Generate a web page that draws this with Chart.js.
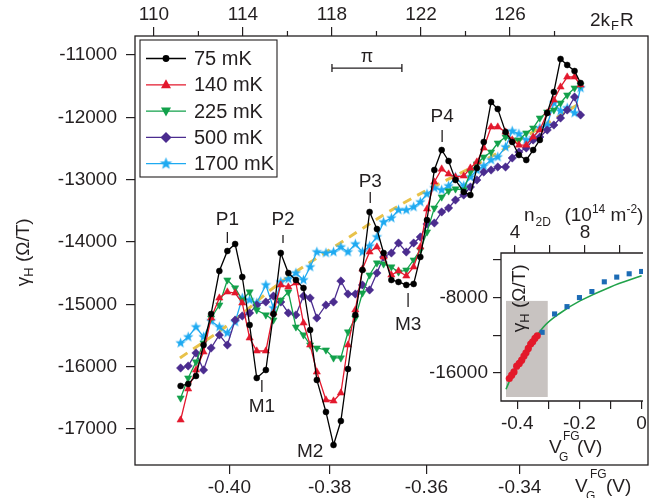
<!DOCTYPE html>
<html>
<head>
<meta charset="utf-8">
<script src="https://cdn.jsdelivr.net/npm/chart.js@4.4.0/dist/chart.umd.min.js"></script>
<style>
html, body { margin: 0; padding: 0; background: #fff; }
#wrap { position: relative; width: 658px; height: 498px; overflow: hidden; }
#main { position: absolute; left: 0; top: 0; }
#inset { position: absolute; left: 430px; top: 190px; }
</style>
</head>
<body>
<div id="wrap">
  <canvas id="main" width="658" height="498"></canvas>
  <canvas id="inset" width="228" height="290"></canvas>
</div>
<script>
// ---- main panel data (x = 2kFR, y = gamma_H in Ohm/T) ----
const kfr = [111.2, 111.54, 111.89, 112.23, 112.57, 112.94, 113.3, 113.65, 113.97, 114.3,
  114.62, 115.03, 115.37, 115.7, 116.04, 116.38, 116.72, 117.02, 117.32, 117.73,
  118.07, 118.4, 118.72, 119.05, 119.37, 119.69, 120.02, 120.32, 120.67, 120.99,
  121.34, 121.67, 121.97, 122.27, 122.6, 122.93, 123.24, 123.55, 123.92, 124.22,
  124.51, 124.82, 125.15, 125.45, 125.8, 126.1, 126.4, 126.73, 127.04, 127.34,
  127.67, 127.97, 128.27, 128.57, 128.9, 129.17];

const g75 = [-16309, -16277, -16149, -15652, -15154, -14465, -14144, -14032, -14561, -15331,
  -16181, -16053, -15154, -14176, -14497, -14609, -14737, -15411, -16213, -16726,
  -17256, -16871, -16037, -15170, -14449, -13518, -13791, -14176, -14609, -14641,
  -14689, -14673, -14240, -13647, -12845, -12524, -12700, -13005, -13197, -13246,
  -12813, -12395, -11754, -11866, -12235, -12395, -12604, -12684, -12524, -12363,
  -11930, -11593, -11064, -11160, -11257, -11449];
const g140 = [-16855, -16357, -16053, -15764, -15219, -14898, -14801, -14818, -14978, -15539,
  -15748, -15748, -15138, -14689, -14721, -14657, -15299, -15652, -16085, -16534,
  -16550, -16422, -15652, -15090, -14433, -14160, -14080, -14240, -14529, -14465,
  -14545, -14400, -14080, -13470, -13037, -12829, -12909, -12957, -12941, -12813,
  -12716, -12492, -12155, -12155, -12235, -12363, -12444, -12444, -12315, -12203,
  -11930, -11722, -11513, -11353, -11353, -11481];
const g225 = [-16502, -16181, -15924, -15620, -15219, -15010, -14609, -14737, -14930, -14801,
  -15090, -15170, -15251, -14930, -14801, -15363, -15491, -15652, -15700, -15732,
  -15860, -15860, -15443, -15219, -14818, -14529, -14336, -14352, -14400, -14481,
  -14449, -14288, -14128, -13839, -13454, -13278, -13181, -13149, -13165, -12877,
  -12748, -12636, -12556, -12412, -12315, -12363, -12363, -12251, -12171, -12011,
  -11914, -11882, -11770, -11642, -11529, -11481];
const g500 = [-16021, -15988, -15780, -16053, -15700, -15491, -15652, -15251, -15186, -15138,
  -15010, -14962, -14866, -14962, -15138, -15170, -14866, -14898, -15219, -15010,
  -14962, -14625, -14834, -14834, -14689, -14769, -14497, -14240, -14176, -14016,
  -14160, -14016, -13919, -13711, -13695, -13518, -13454, -13326, -13246, -13117,
  -13005, -12877, -12845, -12796, -12796, -12652, -12556, -12492, -12363, -12315,
  -12203, -12123, -12011, -11882, -11674, -11962];
const g1700 = [-15620, -15523, -15363, -15523, -15267, -15363, -15459, -15283, -14898, -14930,
  -14978, -14689, -15058, -14641, -14593, -14497, -14609, -14400, -14160, -14176,
  -14160, -14080, -14160, -14032, -14160, -14064, -13919, -13679, -13615, -13486,
  -13486, -13438, -13358, -13230, -13133, -13165, -13101, -12957, -13101, -12957,
  -12845, -12780, -12684, -12636, -12476, -12219, -12267, -12363, -12331, -12171,
  -12123, -11770, -11898, -11850, -11930, -11529];

// dashed guide
const fitX = [111.17, 113.51, 115.54, 118.37, 121.3, 125.12, 129.17];
const fitY = [-15860, -15283, -14689, -14016, -13358, -12636, -11770];

const seriesNames = ['75 mK', '140 mK', '225 mK', '500 mK', '1700 mK'];

// axis ticks
const topTicks = [110, 114, 118, 122, 126];
const topMinor = [112, 116, 120, 124, 128];
const yTicks = [-17000, -16000, -15000, -14000, -13000, -12000, -11000];
const vTicks = [-0.40, -0.38, -0.36, -0.34];
const vLabels = ['-0.40', '-0.38', '-0.36', '-0.34'];

// peak / dip labels [text, x(2kFR), text y, tick from, tick to]
const notes = [
  ['P1', 113.3, -13647, -13839, -14016],
  ['P2', 115.8, -13647, -13887, -14016],
  ['M1', 114.85, -16646, -16213, -16405],
  ['M2', 117.02, -17368, null, null],
  ['P3', 119.72, -13037, -13198, -13374],
  ['M3', 121.42, -15331, -14818, -15042],
  ['P4', 122.95, -11994, -12203, -12395]
];

// ---- inset data ----
const insetRedV = [-0.4257, -0.418, -0.4106, -0.4019, -0.3936, -0.3859, -0.3785, -0.372, -0.3646, -0.3569, -0.3505, -0.3431, -0.3357];
const insetRedG = [-16598, -16246, -15893, -15286, -14998, -14646, -14219, -13867, -13397, -12939, -12693, -12331, -12053];
const insetBlueV = [-0.32, -0.28, -0.24, -0.20, -0.16, -0.12, -0.08, -0.04, 0];
const insetBlueG = [-11691, -9739, -8960, -8000, -7360, -6325, -5824, -5472, -5227];
const insetFitV = [-0.4363, -0.4129, -0.3698, -0.3164, -0.2627, -0.1984, -0.1019, 0];
const insetFitG = [-17739, -16000, -13760, -11157, -9664, -8352, -6891, -5685];
const insetXTicks = [-0.4, -0.3, -0.2, -0.1, 0];
const insetXLabels = ['-0.4', '', '-0.2', '', '0'];
const insetYTicks = [-16000, -12000, -8000, -4000];
const insetYLabels = ['-16000', '', '-8000', ''];
const insetNTicks = [4, 6, 8, 10];
const insetNLabels = ['4', '', '8', ''];

// gate voltage -> 2kFR
function kfrOfV(v) { return Math.sqrt(33717 + 52150 * v); }

const FONT = '"Liberation Sans", Arial, Helvetica, sans-serif';
const INK = '#231f20';
const C_BLACK = '#000000', C_RED = '#e3182d', C_GREEN = '#12a14b', C_PURPLE = '#4b2c8f', C_CYAN = '#1eaaf1', C_GOLD = '#e8c24a';

function makeStar(r, color) {
  const s = Math.ceil(2 * r + 2);
  const c = document.createElement('canvas');
  c.width = s; c.height = s;
  const g = c.getContext('2d');
  g.fillStyle = color;
  g.beginPath();
  for (let i = 0; i < 10; i++) {
    const a = -Math.PI / 2 + i * Math.PI / 5;
    const rr = i % 2 ? r * 0.42 : r;
    g.lineTo(s / 2 + rr * Math.cos(a), s / 2 + rr * Math.sin(a));
  }
  g.closePath();
  g.fill();
  return c;
}
const starImg = makeStar(5.5, C_CYAN);
const starBig = makeStar(6.5, C_CYAN);

function pts(xs, ys) { return xs.map((x, i) => ({ x: x, y: ys[i] })); }

function series(label, ys, color, style, radius, rot) {
  return {
    label: label, data: pts(kfr, ys), borderColor: color, backgroundColor: color,
    borderWidth: 1.3, pointStyle: style, pointRadius: radius, pointRotation: rot || 0,
    pointBackgroundColor: color, pointBorderColor: color, pointBorderWidth: 0.5,
    showLine: true, tension: 0
  };
}

// rich text: pieces [text, size, dx, dy]
function rich(ctx, x, y, pieces) {
  let cx = x;
  pieces.forEach(p => {
    ctx.font = p[1] + 'px ' + FONT;
    ctx.fillText(p[0], cx + (p[2] || 0), y + (p[3] || 0));
    cx += ctx.measureText(p[0]).width + (p[2] || 0);
  });
  return cx - x;
}

function drawMarker(ctx, kind, x, y, color) {
  ctx.fillStyle = color;
  if (kind === 'star') { ctx.drawImage(starBig, x - starBig.width / 2, y - starBig.height / 2); return; }
  ctx.beginPath();
  if (kind === 'circle') { ctx.arc(x, y, 3.4, 0, Math.PI * 2); }
  else if (kind === 'up') { ctx.moveTo(x, y - 5.5); ctx.lineTo(x + 5, y + 3.5); ctx.lineTo(x - 5, y + 3.5); }
  else if (kind === 'down') { ctx.moveTo(x, y + 5.5); ctx.lineTo(x + 5, y - 3.5); ctx.lineTo(x - 5, y - 3.5); }
  else if (kind === 'diamond') { ctx.moveTo(x, y - 5.5); ctx.lineTo(x + 5.5, y); ctx.lineTo(x, y + 5.5); ctx.lineTo(x - 5.5, y); }
  ctx.closePath();
  ctx.fill();
}

const mainDecor = {
  id: 'mainDecor',
  afterDraw(chart) {
    const ctx = chart.ctx, a = chart.chartArea;
    const xs = chart.scales.x, ys = chart.scales.y;
    ctx.save();
    // frame
    ctx.strokeStyle = INK; ctx.lineWidth = 1.3;
    ctx.strokeRect(a.left, a.top, a.right - a.left, a.bottom - a.top);
    // minor ticks top axis
    ctx.lineWidth = 1.2;
    topMinor.forEach(v => {
      const px = xs.getPixelForValue(v);
      ctx.beginPath(); ctx.moveTo(px, a.top); ctx.lineTo(px, a.top - 5); ctx.stroke();
    });
    ctx.fillStyle = INK;
    ctx.textBaseline = 'alphabetic';
    ctx.textAlign = 'left';
    // top axis name
    rich(ctx, 590, 26, [['2k', 19], ['F', 13, 1, 4], ['R', 19, 1]]);
    // bottom axis name
    rich(ctx, 575, 492, [['V', 19]]);
    ctx.font = '12px ' + FONT;
    ctx.fillText('FG', 590, 478);
    ctx.fillText('G', 586, 500);
    ctx.font = '19px ' + FONT;
    ctx.fillText('(V)', 606, 492);
    // y axis name
    ctx.save();
    ctx.translate(29, 253);
    ctx.rotate(-Math.PI / 2);
    ctx.font = '19px ' + FONT;
    const w = ctx.measureText('γ').width + 8 + ctx.measureText(' (Ω/T)').width;
    rich(ctx, -w / 2, 0, [['γ', 19], ['H', 13, 0, 4], [' (Ω/T)', 19]]);
    ctx.restore();
    // pi bar
    const p1 = xs.getPixelForValue(118), p2 = xs.getPixelForValue(118 + Math.PI);
    const py = ys.getPixelForValue(-11209);
    ctx.lineWidth = 1.3;
    ctx.beginPath();
    ctx.moveTo(p1, py); ctx.lineTo(p2, py);
    ctx.moveTo(p1, py - 4); ctx.lineTo(p1, py + 4);
    ctx.moveTo(p2, py - 4); ctx.lineTo(p2, py + 4);
    ctx.stroke();
    ctx.textAlign = 'center'; ctx.textBaseline = 'middle';
    ctx.font = '18px ' + FONT;
    ctx.fillText('π', (p1 + p2) / 2, ys.getPixelForValue(-11032));
    // peak / dip labels
    ctx.font = '19px ' + FONT;
    notes.forEach(n => {
      const px = xs.getPixelForValue(n[1]);
      ctx.fillText(n[0], px, ys.getPixelForValue(n[2]));
      if (n[3] !== null) {
        ctx.beginPath();
        ctx.moveTo(px, ys.getPixelForValue(n[3]));
        ctx.lineTo(px, ys.getPixelForValue(n[4]));
        ctx.stroke();
      }
    });
    // legend
    const lx = 140, ly = 40;
    ctx.fillStyle = '#fff';
    ctx.fillRect(lx, ly, 137, 137);
    ctx.lineWidth = 1.1; ctx.strokeStyle = INK;
    ctx.strokeRect(lx, ly, 137, 137);
    const kinds = ['circle', 'up', 'down', 'diamond', 'star'];
    const cols = [C_BLACK, C_RED, C_GREEN, C_PURPLE, C_CYAN];
    ctx.textAlign = 'left';
    seriesNames.forEach((s, i) => {
      const y = 58.5 + i * 26.3;
      ctx.strokeStyle = cols[i]; ctx.lineWidth = 1.3;
      ctx.beginPath(); ctx.moveTo(146, y); ctx.lineTo(186, y); ctx.stroke();
      drawMarker(ctx, kinds[i], 166, y, cols[i]);
      ctx.fillStyle = INK;
      ctx.font = '20px ' + FONT;
      ctx.fillText(s, 194, y + 1);
    });
    ctx.restore();
  }
};

const tickFont = { family: FONT, size: 19 };

new Chart(document.getElementById('main'), {
  type: 'scatter',
  data: {
    datasets: [
      series(seriesNames[0], g75, C_BLACK, 'circle', 3),
      series(seriesNames[1], g140, C_RED, 'triangle', 4.2),
      series(seriesNames[2], g225, C_GREEN, 'triangle', 4.2, 180),
      series(seriesNames[3], g500, C_PURPLE, 'rectRot', 4.2),
      series(seriesNames[4], g1700, C_CYAN, starImg, 5),
      {
        label: 'fit', data: pts(fitX, fitY), showLine: true, borderColor: C_GOLD,
        borderWidth: 3, borderDash: [9, 7], pointRadius: 0, tension: 0.4
      }
    ]
  },
  options: {
    responsive: false, animation: false, devicePixelRatio: 1,
    layout: { padding: { left: 0, right: 10, top: 0, bottom: 0 } },
    plugins: { legend: { display: false }, tooltip: { enabled: false } },
    scales: {
      x: {
        type: 'linear', position: 'top', min: 109.15, max: 132.2,
        afterBuildTicks: ax => { ax.ticks = topTicks.map(v => ({ value: v })); },
        afterFit: ax => { ax.height = 36; },
        ticks: { font: tickFont, color: INK, padding: 1, maxRotation: 0, autoSkip: false, callback: v => String(v) },
        grid: { display: true, drawOnChartArea: false, drawTicks: true, tickLength: 9, color: INK, lineWidth: 1.2 },
        border: { display: false }
      },
      xb: {
        type: 'linear', position: 'bottom', min: 109.15, max: 132.2,
        afterBuildTicks: ax => { ax.ticks = vTicks.map(v => ({ value: kfrOfV(v) })); },
        afterFit: ax => { ax.height = 33; },
        ticks: { font: tickFont, color: INK, padding: 2, maxRotation: 0, autoSkip: false, callback: (v, i) => vLabels[i] },
        grid: { display: true, drawOnChartArea: false, drawTicks: true, tickLength: 9, color: INK, lineWidth: 1.2 },
        border: { display: false }
      },
      y: {
        type: 'linear', position: 'left', min: -17577, max: -10695,
        afterBuildTicks: ax => { ax.ticks = yTicks.map(v => ({ value: v })); },
        afterFit: ax => { ax.width = 135; },
        ticks: { font: tickFont, color: INK, padding: 9, autoSkip: false, callback: v => String(v) },
        grid: { display: true, drawOnChartArea: false, drawTicks: true, tickLength: 9, color: INK, lineWidth: 1.2 },
        border: { display: false }
      }
    }
  },
  plugins: [mainDecor]
});

// ---- inset ----
const insetDecor = {
  id: 'insetDecor',
  beforeDatasetsDraw(chart) {
    const ctx = chart.ctx, xs = chart.scales.x, ys = chart.scales.y;
    const x1 = xs.getPixelForValue(-0.4363), x2 = xs.getPixelForValue(-0.302);
    const y1 = ys.getPixelForValue(-8352), y2 = ys.getPixelForValue(-18560);
    ctx.save();
    ctx.fillStyle = '#c8c3c1';
    ctx.fillRect(x1, y1, x2 - x1, y2 - y1);
    ctx.restore();
  },
  afterDraw(chart) {
    const ctx = chart.ctx, a = chart.chartArea;
    ctx.save();
    ctx.strokeStyle = INK; ctx.lineWidth = 1.3;
    ctx.beginPath();
    ctx.moveTo(a.right, a.top); ctx.lineTo(a.left, a.top); ctx.lineTo(a.left, a.bottom); ctx.lineTo(a.right, a.bottom);
    ctx.stroke();
    ctx.fillStyle = INK; ctx.textAlign = 'left'; ctx.textBaseline = 'alphabetic';
    // bottom axis name (canvas origin at 430,190)
    ctx.font = '19px ' + FONT;
    ctx.fillText('V', 119, 263);
    ctx.font = '12px ' + FONT;
    ctx.fillText('FG', 133, 250);
    ctx.fillText('G', 129, 271);
    ctx.font = '19px ' + FONT;
    ctx.fillText('(V)', 147, 263);
    // top axis name
    rich(ctx, 94, 31, [['n', 19], ['2D', 12, 1, 5], ['  (10', 19, 3], ['14', 12, 0, -8], [' m', 19], ['-2', 12, 0, -8], [')', 19]]);
    // y name
    ctx.save();
    ctx.translate(95, 109);
    ctx.rotate(-Math.PI / 2);
    ctx.font = '19px ' + FONT;
    const w = ctx.measureText('γ').width + 8 + ctx.measureText(' (Ω/T)').width;
    rich(ctx, -w / 2, 0, [['γ', 19], ['H', 13, 0, 4], [' (Ω/T)', 19]]);
    ctx.restore();
    ctx.restore();
  }
};

const insetGrid = { display: true, drawOnChartArea: false, drawTicks: true, tickLength: 8, color: INK, lineWidth: 1.2 };

new Chart(document.getElementById('inset'), {
  type: 'scatter',
  data: {
    datasets: [
      { label: 'red', data: pts(insetRedV, insetRedG), pointRadius: 3.6, pointBackgroundColor: '#e3192a', pointBorderWidth: 0, showLine: false },
      { label: 'blue', data: pts(insetBlueV, insetBlueG), pointStyle: 'rect', pointRadius: 3.6, pointBackgroundColor: '#1c6bb5', pointBorderWidth: 0, showLine: false },
      { label: 'curve', data: pts(insetFitV, insetFitG), showLine: true, borderColor: '#21a24a', borderWidth: 1.6, pointRadius: 0, tension: 0.4 }
    ]
  },
  options: {
    responsive: false, animation: false, devicePixelRatio: 1,
    layout: { padding: { left: 0, right: 15, top: 0, bottom: 0 } },
    plugins: { legend: { display: false }, tooltip: { enabled: false } },
    scales: {
      x: {
        type: 'linear', position: 'bottom', min: -0.4524, max: 0.0045,
        afterBuildTicks: ax => { ax.ticks = insetXTicks.map(v => ({ value: v })); },
        afterFit: ax => { ax.height = 79; },
        ticks: { font: tickFont, color: INK, padding: 3, maxRotation: 0, autoSkip: false, callback: (v, i) => insetXLabels[i] },
        grid: insetGrid, border: { display: false }
      },
      n: {
        type: 'linear', position: 'top', min: 3.2, max: 11.31,
        afterBuildTicks: ax => { ax.ticks = insetNTicks.map(v => ({ value: v })); },
        afterFit: ax => { ax.height = 63; },
        ticks: { font: tickFont, color: INK, padding: 1, maxRotation: 0, autoSkip: false, callback: (v, i) => insetNLabels[i] },
        grid: insetGrid, border: { display: false }
      },
      y: {
        type: 'linear', position: 'left', min: -18987, max: -3264,
        afterBuildTicks: ax => { ax.ticks = insetYTicks.map(v => ({ value: v })); },
        afterFit: ax => { ax.width = 71; },
        ticks: { font: tickFont, color: INK, padding: 5, autoSkip: false, callback: (v, i) => insetYLabels[i] },
        grid: insetGrid, border: { display: false }
      }
    }
  },
  plugins: [insetDecor]
});
</script>
</body>
</html>
